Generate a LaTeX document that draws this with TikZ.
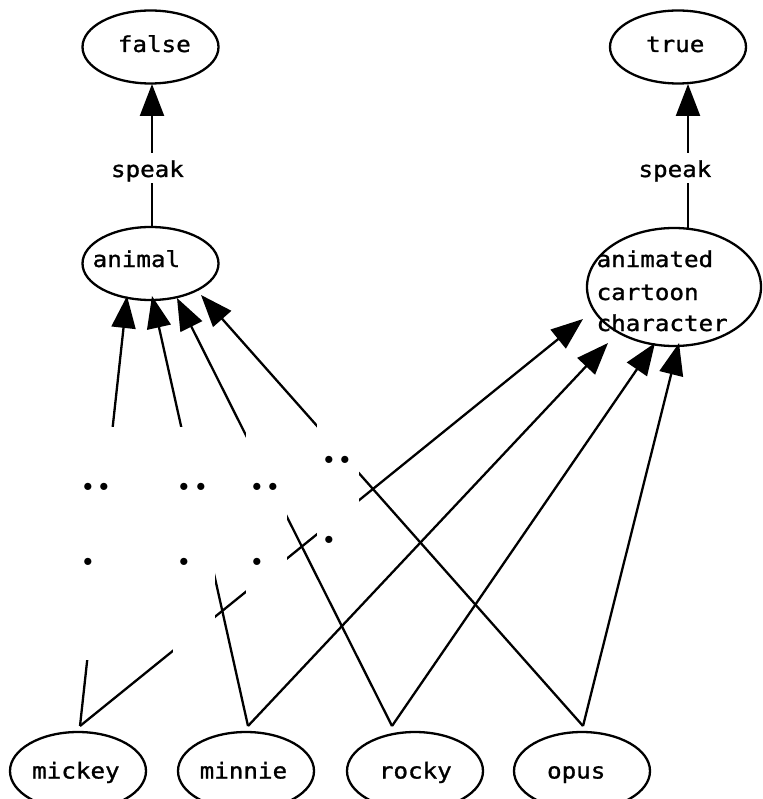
\documentclass[tikz,border=0pt]{standalone}
\usepackage{fontspec}
\newfontfamily\monof[FakeStretch=1.1,FakeBold=1.2]{DejaVu Sans Mono}
\usetikzlibrary{arrows.meta,shapes.geometric}
\newcommand{\txtat}[3]{\smash{\rlap{\kern#1pt\raisebox{#2pt}{#3}}}}
% one dot centred at (x, y) relative to the node centre (y upwards)
\newcommand{\dotat}[2]{\rlap{\kern#1pt\makebox[0pt]{\raisebox{\dimexpr#2pt-3.8pt\relax}{.}}}}
\newcommand{\dotlbl}[4]{\smash{\dotat{#1}{#3}\dotat{#2}{#3}\dotat{#1}{#4}}}
\begin{document}
\begin{tikzpicture}[x=1pt,y=-1pt,
  ent/.style={ellipse, draw, line width=2.3pt, inner sep=0pt, font=\monof\fontsize{22}{22}\selectfont},
  small/.style={ent, minimum width=136pt, minimum height=73pt},
  bot/.style={ent, minimum width=136pt, minimum height=78pt},
  edge/.style={line width=2.3pt, -{Triangle[length=32pt,width=24pt]}},
  dotbox/.style={rectangle, fill=white, inner sep=0pt, minimum width=42pt, font=\rmfamily\bfseries\fontsize{50}{50}\selectfont},
  speakbox/.style={rectangle, fill=white, inner sep=0pt, minimum width=74pt, minimum height=30pt, font=\monof\fontsize{22}{22}\selectfont}]
\useasboundingbox (0,0) rectangle (762,799);
% nodes
\node[small] (false) at (150.5,47) {\txtat{-32.6}{-5}{false}};
\node[small] (true) at (678,47) {\txtat{-31.9}{-5}{true}};
\node[small] (animal) at (150.5,263.5) {\txtat{-57.8}{-3.5}{animal}};
\node[ent, minimum width=174pt, minimum height=118pt] (cartoon) at (674,287)
  {\txtat{-77.4}{20}{animated}\txtat{-77.4}{-13}{cartoon}\txtat{-77.4}{-44}{character}};
\node[bot] (mickey) at (78,771) {\txtat{-45.8}{-7.5}{mickey}};
\node[bot] (minnie) at (246,771) {\txtat{-46.3}{-7.5}{minnie}};
\node[bot] (rocky) at (415,771) {\txtat{-36.1}{-7.5}{rocky}};
\node[bot] (opus) at (582,771) {\txtat{-34.9}{-7.5}{opus}};
% connector ends
\coordinate (mickey-out) at (80,726);
\coordinate (minnie-out) at (248,726);
\coordinate (rocky-out) at (392,726);
\coordinate (opus-out) at (583,726);
\coordinate (animal-in1) at (127,296);
\coordinate (animal-in2) at (152,296);
\coordinate (animal-in3) at (177,298);
\coordinate (animal-in4) at (201,295);
\coordinate (cartoon-in1) at (583,319);
\coordinate (cartoon-in2) at (608,343);
\coordinate (cartoon-in3) at (655,343);
\coordinate (cartoon-in4) at (679,343);
\coordinate (animal-out) at (152,227);
\coordinate (false-in) at (152,84);
\coordinate (cartoon-out) at (688,228);
\coordinate (true-in) at (688,84);
% edges
\draw[edge] (animal-out) -- (false-in);
\draw[edge] (cartoon-out) -- (true-in);
\draw[edge] (mickey-out) -- (animal-in1);
\draw[edge] (minnie-out) -- (animal-in2);
\draw[edge] (rocky-out) -- (animal-in3);
\draw[edge] (opus-out) -- (animal-in4);
\draw[edge] (mickey-out) -- (cartoon-in1);
\draw[edge] (minnie-out) -- (cartoon-in2);
\draw[edge] (rocky-out) -- (cartoon-in3);
\draw[edge] (opus-out) -- (cartoon-in4);
% labels
\node[speakbox] (speak1) at (147,168) {\txtat{-36}{-9}{speak}};
\node[speakbox] (speak2) at (675,168) {\txtat{-36.5}{-9}{speak}};
\node[dotbox, minimum height=233pt] (la) at (97,543.5) {\dotlbl{-9}{7.5}{56.5}{-18.5}};
\node[dotbox, minimum height=233pt] (lb) at (194,543.5) {\dotlbl{-10}{7}{56.5}{-18.5}};
\node[dotbox, minimum height=233pt, minimum width=41pt] (lc) at (266.5,543.5) {\dotlbl{-9.5}{6.5}{56.5}{-18.5}};
\node[dotbox, minimum height=170pt] (ld) at (338,485) {\dotlbl{-9}{7}{25}{-55}};
\end{tikzpicture}
\end{document}
